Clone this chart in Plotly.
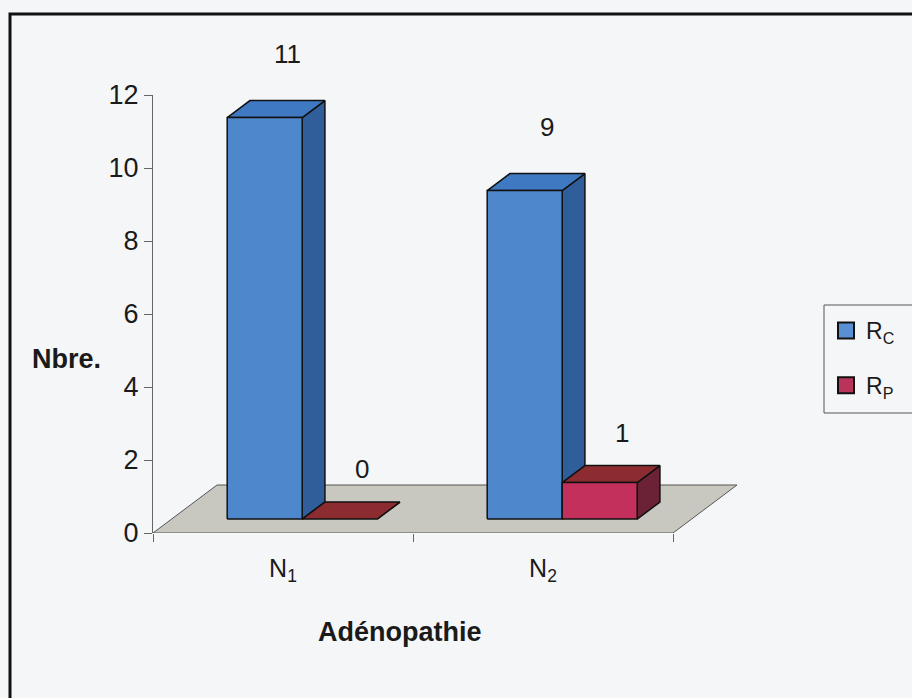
import plotly.graph_objects as go

# ---- data ----
categories = ["N<sub>1</sub>", "N<sub>2</sub>"]
series_names = ["R<sub>C</sub>", "R<sub>P</sub>"]
rc_values = [11, 9]
rp_values = [0, 1]
y_ticks = [0, 2, 4, 6, 8, 10, 12]

# ---- styling / geometry (pixels -> data helpers) ----
W, H = 912, 698
L, R_EDGE, T, B = 153, 760, 95, 533
PX_X = 260.0            # pixels per category unit
PX_Y = (B - T) / 12.0   # pixels per value unit
xmax = (R_EDGE - L) / PX_X

DX, DY = 64 / PX_X, 48 / PX_Y          # floor depth
FX, FY = 0.3 * DX, 0.29 * DY           # bar front offset
BDX, BDY = 0.355 * DX, 0.355 * DY      # bar depth
BW = 75 / PX_X                         # bar width

face_colors = [
    dict(front="#4f87cc", top="#3f79c2", side="#2f5e9b", legend="#5a8fd4"),
    dict(front="#c4305c", top="#8c2c30", side="#6b2236", legend="#b8345a"),
]
label_shift = [47, 33]
FONT = "Liberation Sans, Arial, sans-serif"

def px2paper_x(px):
    return (px - L) / (R_EDGE - L)

def px2paper_y(py):
    return (B - py) / (B - T)

fig = go.Figure()

def poly(xs, ys, fill, lw=1.5, lc="#111111"):
    fig.add_trace(go.Scatter(
        x=xs + [xs[0]], y=ys + [ys[0]], mode="lines", fill="toself",
        fillcolor=fill, line=dict(color=lc, width=lw),
        showlegend=False, hoverinfo="skip"))

# floor
ncat = len(categories)
poly([0, ncat, ncat + DX, DX], [0, 0, DY, DY], "#c8c8c1", lw=1, lc="#555555")

# bars
all_values = [rc_values, rp_values]
for i, cat in enumerate(categories):
    c = i + 0.5
    for s, vals in enumerate(all_values):
        v = vals[i]
        x0 = c + FX + (s - 1) * BW
        x1 = x0 + BW
        yb, yt = FY, FY + v
        col = face_colors[s]
        poly([x1, x1 + BDX, x1 + BDX, x1], [yb, yb + BDY, yt + BDY, yt], col["side"])
        poly([x0, x1, x1 + BDX, x0 + BDX], [yt, yt, yt + BDY, yt + BDY], col["top"])
        if v > 0:
            poly([x0, x1, x1, x0], [yb, yb, yt, yt], col["front"])
        fig.add_annotation(x=(x0 + x1) / 2 + BDX, y=yt + BDY, text=str(v),
                           showarrow=False, yshift=label_shift[s], xref="x", yref="y",
                           xanchor="center", yanchor="middle",
                           font=dict(family=FONT, size=26, color="#1a1a1a"))

# legend entries
for s, name in enumerate(series_names):
    fig.add_trace(go.Scatter(
        x=[None], y=[None], mode="markers", name=name, legendgroup=f"g{s}",
        marker=dict(symbol="square", size=17, color=face_colors[s]["legend"],
                    line=dict(color="#111111", width=2))))

# titles
fig.add_annotation(x=px2paper_x(400), y=px2paper_y(632), xref="paper", yref="paper",
                   text="<b>Adénopathie</b>", showarrow=False,
                   xanchor="center", yanchor="middle",
                   font=dict(family=FONT, size=27, color="#1a1a1a"))
fig.add_annotation(x=px2paper_x(66), y=px2paper_y(359), xref="paper", yref="paper",
                   text="<b>Nbre.</b>", showarrow=False,
                   xanchor="center", yanchor="middle",
                   font=dict(family=FONT, size=27, color="#1a1a1a"))

# outer frame
fig.add_shape(type="rect", xref="paper", yref="paper",
              x0=px2paper_x(10), x1=px2paper_x(960),
              y0=px2paper_y(760), y1=px2paper_y(14),
              line=dict(color="#111111", width=3), layer="below")
# legend box
fig.add_shape(type="rect", xref="paper", yref="paper",
              x0=px2paper_x(824), x1=px2paper_x(940),
              y0=px2paper_y(413), y1=px2paper_y(305),
              line=dict(color="#555555", width=1), layer="below")

fig.update_layout(
    width=W, height=H,
    margin=dict(l=L, r=W - R_EDGE, t=T, b=H - B),
    paper_bgcolor="#f5f6f8", plot_bgcolor="rgba(0,0,0,0)",
    font=dict(family=FONT, size=27, color="#1a1a1a"),
    showlegend=True,
    legend=dict(x=px2paper_x(826), y=px2paper_y(309), xanchor="left", yanchor="top",
                bgcolor="rgba(0,0,0,0)", borderwidth=0,
                font=dict(family=FONT, size=23, color="#1a1a1a"),
                itemwidth=30, tracegroupgap=22),
    xaxis=dict(range=[0, xmax], tickvals=[i + 0.5 for i in range(ncat)],
               ticktext=categories, ticks="", showgrid=False, zeroline=False,
               showline=False, ticklabelstandoff=18, fixedrange=True,
               tickfont=dict(size=25),
               minor=dict(tickvals=list(range(ncat + 1)), ticks="outside", ticklen=8,
                          tickcolor="#666666", showgrid=False)),
    yaxis=dict(range=[0, 12], tickvals=y_ticks, ticks="outside", ticklen=8,
               tickcolor="#666666", showline=True, linecolor="#666666", linewidth=1,
               showgrid=False, zeroline=False, fixedrange=True,
               tickfont=dict(size=27)),
)

fig.write_html("out.html")
